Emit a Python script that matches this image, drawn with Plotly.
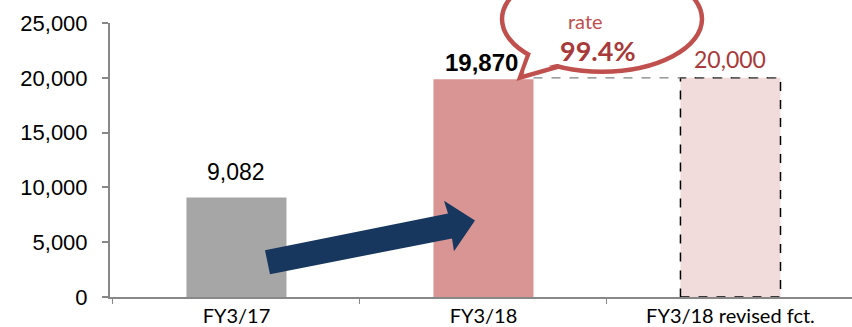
import plotly.graph_objects as go

categories = ["FY3/17", "FY3/18", "FY3/18 revised fct."]
values = [9082, 19870, 20000]
label_texts = ["9,082", "19,870", "20,000"]
bar_colors = ["#A6A6A6", "#D99594", "#F2DCDB"]
bubble_title = "Achievement"
bubble_sub = "rate"
achievement_rate = "99.4%"
y_ticks = [0, 5000, 10000, 15000, 20000, 25000]

W, H = 852, 327
L, R, T, B = 110, 0, 23, 28
PW, PH = W - L - R, H - T - B

def px(x):
    return (x - L) / PW

def py(y):
    return (H - B - y) / PH

CAL = "Lato, 'Open Sans', sans-serif"
ARIAL = "Liberation Sans, Arial, sans-serif"
BW = 0.405

fig = go.Figure()
fig.add_trace(go.Bar(
    x=categories, y=values, marker_color=bar_colors,
    marker_line_width=0, width=BW, hoverinfo="skip",
))

shapes = []
shapes.append(dict(type="rect", xref="x", yref="y", x0=2 - BW / 2, x1=2 + BW / 2,
                   y0=0, y1=values[2], line=dict(color="black", width=1.5, dash="dash"),
                   fillcolor="rgba(0,0,0,0)"))
shapes.append(dict(type="line", xref="x", yref="y", x0=1 + BW / 2, x1=2 + 0.22,
                   y0=values[2], y1=values[2], line=dict(color="#808080", width=1.2, dash="dash")))

arrow_pts = [(265, 252), (448, 215), (444, 202), (475, 222), (454, 253), (452, 240), (270, 276)]
path = "M " + " L ".join(f"{px(x):.5f},{py(y):.5f}" for x, y in arrow_pts) + " Z"
shapes.append(dict(type="path", xref="paper", yref="paper", path=path,
                   fillcolor="#17375E", line=dict(width=0)))

tail_pts = [(530, 50), (520, 78), (562, 66)]
tpath = "M " + " L ".join(f"{px(x):.5f},{py(y):.5f}" for x, y in tail_pts)
shapes.append(dict(type="path", xref="paper", yref="paper", path=tpath,
                   fillcolor="white", line=dict(color="#C0504D", width=4.5)))
shapes.append(dict(type="circle", xref="paper", yref="paper",
                   x0=px(502), x1=px(702), y0=py(72), y1=py(-34),
                   fillcolor="white", line=dict(color="#C0504D", width=4.5)))
cover_pts = [(533, 48), (524, 72), (566, 62), (570, 52)]
cpath = "M " + " L ".join(f"{px(x):.5f},{py(y):.5f}" for x, y in cover_pts) + " Z"
shapes.append(dict(type="path", xref="paper", yref="paper", path=cpath,
                   fillcolor="white", line=dict(width=0)))

annotations = []
annotations.append(dict(x=categories[0], y=values[0], text=label_texts[0], showarrow=False,
                        yanchor="bottom", yshift=10, font=dict(family=ARIAL, size=23, color="black")))
annotations.append(dict(x=categories[1], y=values[1], text="<b>" + label_texts[1] + "</b>", showarrow=False,
                        yanchor="bottom", yshift=1, xshift=-2, font=dict(family=ARIAL, size=24, color="black")))
annotations.append(dict(x=categories[2], y=values[2], text=label_texts[2], showarrow=False,
                        yanchor="bottom", yshift=3, font=dict(family=CAL, size=23, color="#A83A3A")))
annotations.append(dict(xref="paper", yref="paper", x=px(610), y=py(5), text=bubble_title,
                        showarrow=False, yanchor="bottom", font=dict(family=CAL, size=20, color="#C0504D")))
annotations.append(dict(xref="paper", yref="paper", x=px(605), y=py(21), text=bubble_sub,
                        showarrow=False, yanchor="middle", font=dict(family=CAL, size=20, color="#C0504D")))
annotations.append(dict(xref="paper", yref="paper", x=px(598), y=py(51), text="<b>" + achievement_rate + "</b>",
                        showarrow=False, yanchor="middle", font=dict(family=CAL, size=27, color="#A83A3A")))

fig.update_layout(
    width=W, height=H, margin=dict(l=L, r=R, t=T, b=B),
    paper_bgcolor="white", plot_bgcolor="white", showlegend=False,
    shapes=shapes, annotations=annotations,
)
fig.update_yaxes(range=[0, 25000], tickvals=y_ticks, tickformat=",", showgrid=False,
                 zeroline=False, showline=True, linecolor="#888888", linewidth=2,
                 ticks="outside", ticklen=6, tickcolor="#888888", tickwidth=1.5,
                 tickfont=dict(family=ARIAL, size=22, color="black"), ticklabelstandoff=10)
fig.update_xaxes(range=[-0.512, 2.492], showgrid=False, showline=True, linecolor="#888888", linewidth=2,
                 ticks="outside", tickson="boundaries", ticklen=5, tickcolor="#888888",
                 tickfont=dict(family=CAL, size=20, color="black"))

fig.write_html("out.html")
